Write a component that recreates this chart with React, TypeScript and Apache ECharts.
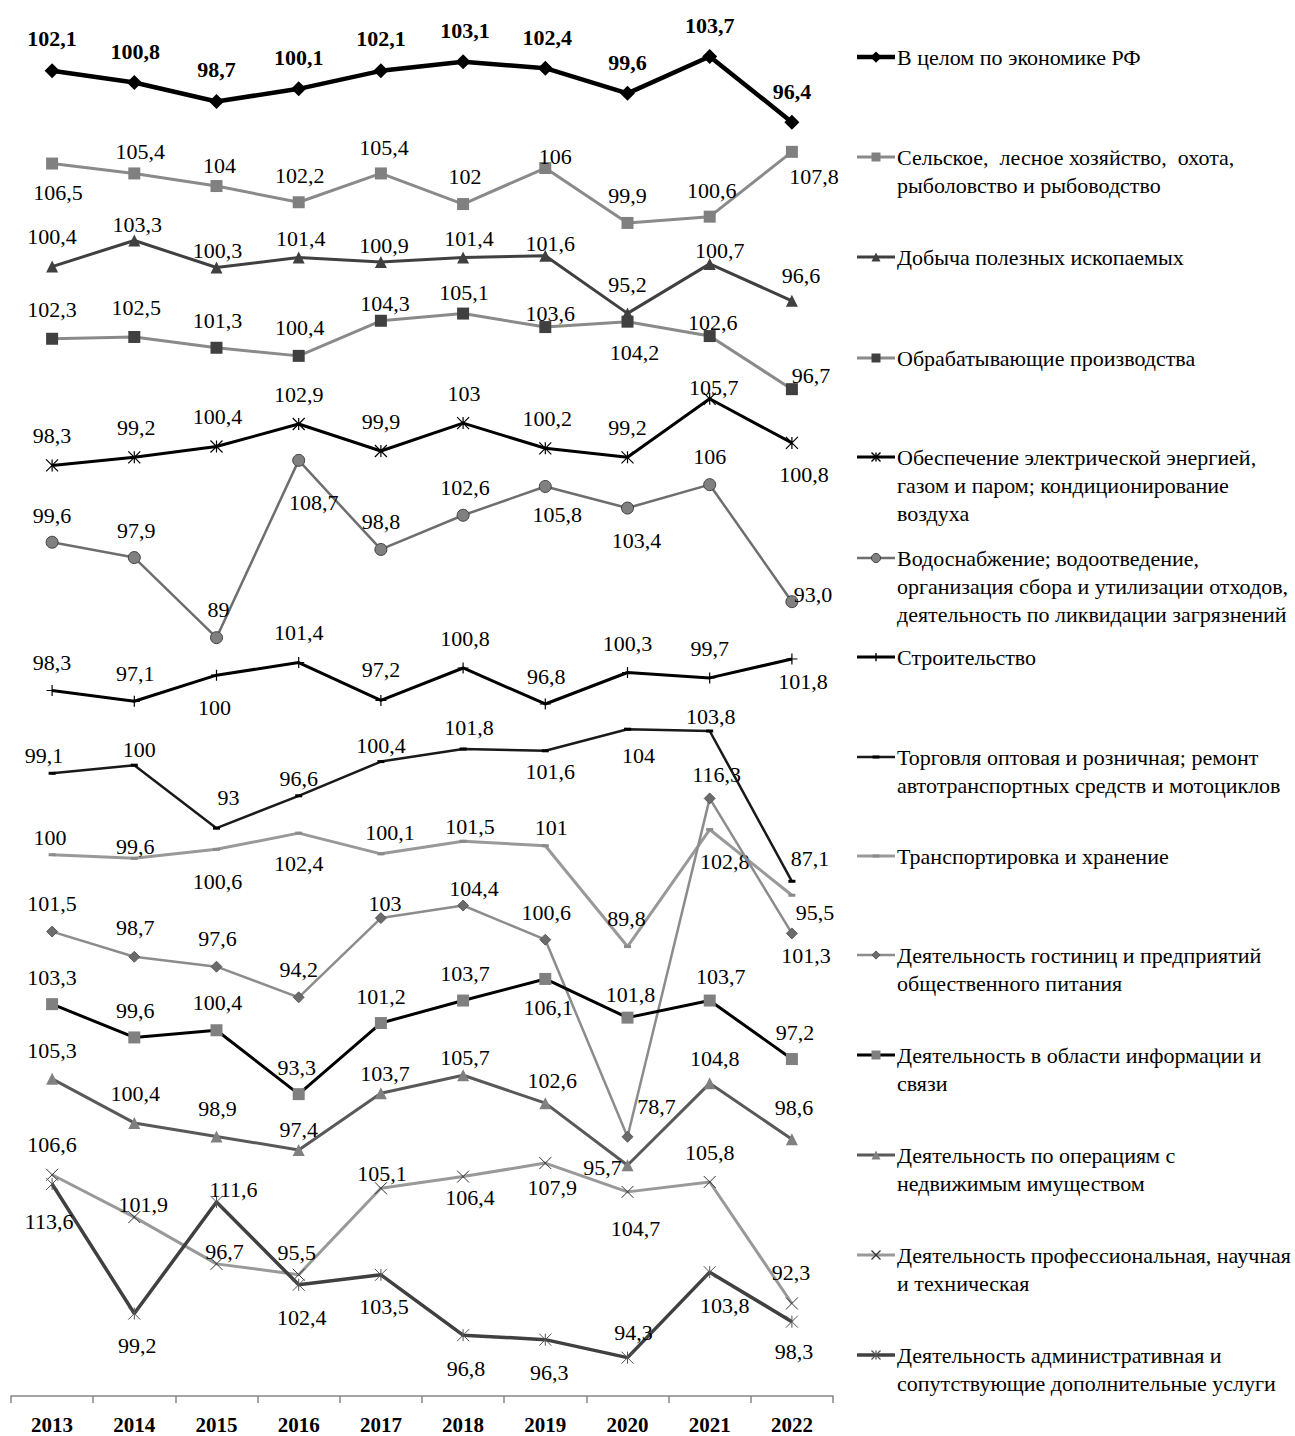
import React, { useEffect, useRef } from "react";
import * as echarts from "echarts";

const FONT = '"Liberation Serif", "Times New Roman", serif';

// ---------- data ----------
const YEARS = ["2013", "2014", "2015", "2016", "2017", "2018", "2019", "2020", "2021", "2022"];

const ECONOMY = [102.1, 100.8, 98.7, 100.1, 102.1, 103.1, 102.4, 99.6, 103.7, 96.4];
const AGRI = [106.5, 105.4, 104, 102.2, 105.4, 102, 106, 99.9, 100.6, 107.8];
const MINING = [100.4, 103.3, 100.3, 101.4, 100.9, 101.4, 101.6, 95.2, 100.7, 96.6];
const MANUF = [102.3, 102.5, 101.3, 100.4, 104.3, 105.1, 103.6, 104.2, 102.6, 96.7];
const ENERGY = [98.3, 99.2, 100.4, 102.9, 99.9, 103, 100.2, 99.2, 105.7, 100.8];
const WATER = [99.6, 97.9, 89, 108.7, 98.8, 102.6, 105.8, 103.4, 106, 93.0];
const CONSTR = [98.3, 97.1, 100, 101.4, 97.2, 100.8, 96.8, 100.3, 99.7, 101.8];
const TRADE = [99.1, 100, 93, 96.6, 100.4, 101.8, 101.6, 104, 103.8, 87.1];
const TRANSPORT = [100, 99.6, 100.6, 102.4, 100.1, 101.5, 101, 89.8, 102.8, 95.5];
const HOTELS = [101.5, 98.7, 97.6, 94.2, 103, 104.4, 100.6, 78.7, 116.3, 101.3];
const INFO = [103.3, 99.6, 100.4, 93.3, 101.2, 103.7, 106.1, 101.8, 103.7, 97.2];
const REALTY = [105.3, 100.4, 98.9, 97.4, 103.7, 105.7, 102.6, 95.7, 104.8, 98.6];
const PROF = [106.6, 101.9, 96.7, 95.5, 105.1, 106.4, 107.9, 104.7, 105.8, 92.3];
const ADMIN = [113.6, 99.2, 111.6, 102.4, 103.5, 96.8, 96.3, 94.3, 103.8, 98.3];

// ---------- layout (vertical band shift of each series, label offsets in px) ----------
const SHIFTS = [45.14, 30.44, 25.09, 15.17, 5.1, -4.74, -19.91, -29.91, -39.86, -49.9, -59.76, -70.06, -82.02, -90.04];

const OFF_ECON = [[0, -32], [1, -31], [0, -32], [0, -31], [0, -32], [2, -31], [2, -31], [0, -31], [0, -31], [0, -31]];
const OFF_AGRI = [[6, 29], [6, -22], [3, -21], [1, -27], [3, -26], [2, -28], [10, -12], [0, -27], [2, -26], [22, 25]];
const OFF_MINING = [[0, -30], [3, -16], [1, -17], [2, -19], [3, -17], [6, -19], [5, -12], [0, -29], [10, -13], [9, -25]];
const OFF_MANUF = [[0, -29], [2, -29], [1, -27], [1, -28], [4, -17], [1, -21], [5, -14], [7, 31], [3, -14], [19, -14]];
const OFF_ENERGY = [[0, -30], [2, -30], [1, -30], [0, -30], [0, -30], [1, -30], [2, -30], [0, -30], [4, -11], [12, 32]];
const OFF_WATER = [[0, -27], [2, -27], [2, -28], [15, 42], [0, -28], [2, -28], [12, 28], [9, 32], [0, -28], [21, -7]];
const OFF_CONSTR = [[0, -28], [1, -28], [-2, 32], [0, -30], [0, -31], [2, -29], [1, -27], [0, -29], [0, -29], [11, 23]];
const OFF_TRADE = [[-8, -18], [5, -16], [12, -31], [0, -17], [0, -16], [6, -21], [5, 21], [11, 26], [1, -14], [18, -23]];
const OFF_TRANSPORT = [[-2, -17], [1, -12], [1, 32], [0, 30], [9, -21], [7, -15], [6, -18], [-1, -28], [15, 32], [23, 17]];
const OFF_HOTELS = [[0, -28], [1, -29], [1, -28], [0, -28], [4, -15], [11, -17], [1, -27], [29, -30], [7, -24], [14, 22]];
const OFF_INFO = [[0, -27], [1, -27], [1, -28], [-2, -27], [0, -27], [2, -27], [3, 29], [3, -23], [11, -24], [3, -27]];
const OFF_REALTY = [[0, -28], [1, -29], [1, -28], [0, -20], [4, -20], [2, -18], [7, -23], [-25, 2], [5, -25], [2, -32]];
const OFF_PROF = [[0, -30], [9, -13], [8, -12], [-2, -22], [1, -15], [7, 21], [7, 24], [8, 37], [0, -29], [-1, -31]];
const OFF_ADMIN = [[-3, 38], [3, 32], [17, -12], [3, 33], [3, 32], [3, 33], [4, 33], [6, -25], [15, 33], [2, 30]];

const LEGEND_Y = [57, 157, 257, 358, 457, 558, 657, 757, 856, 955, 1055, 1155, 1255, 1355];

const SYM_PLUS = "path://M0,5L10,5M5,0L5,10";
const SYM_X = "path://M0,0L10,10M10,0L0,10";
const SYM_STAR = "path://M0,0L10,10M10,0L0,10M5,0L5,10";

type Spec = {
  name: string;
  legend: string;
  values: number[];
  offsets: number[][];
  line: string;
  width: number;
  symbol: string;
  size: number | number[];
  fill: string;
  stroke: string;
  strokeWidth: number;
  bold?: boolean;
  fixed?: number[];
};

const SPECS: Spec[] = [
  { name: "В целом по экономике РФ", legend: "В целом по экономике РФ", values: ECONOMY, offsets: OFF_ECON, line: "#000000", width: 4.5, symbol: "diamond", size: 15, fill: "#000000", stroke: "#000000", strokeWidth: 0, bold: true },
  { name: "Сельское, лесное хозяйство, охота, рыболовство и рыбоводство", legend: "Сельское,  лесное хозяйство,  охота,\nрыболовство и рыбоводство", values: AGRI, offsets: OFF_AGRI, line: "#8a8a8a", width: 3, symbol: "rect", size: 12, fill: "#808080", stroke: "#808080", strokeWidth: 0 },
  { name: "Добыча полезных ископаемых", legend: "Добыча полезных ископаемых", values: MINING, offsets: OFF_MINING, line: "#404040", width: 3, symbol: "triangle", size: 12, fill: "#404040", stroke: "#404040", strokeWidth: 0 },
  { name: "Обрабатывающие производства", legend: "Обрабатывающие производства", values: MANUF, offsets: OFF_MANUF, line: "#8a8a8a", width: 3, symbol: "rect", size: 12, fill: "#404040", stroke: "#404040", strokeWidth: 0 },
  { name: "Обеспечение электрической энергией, газом и паром; кондиционирование воздуха", legend: "Обеспечение электрической энергией,\nгазом и паром; кондиционирование\nвоздуха", values: ENERGY, offsets: OFF_ENERGY, line: "#000000", width: 3, symbol: SYM_STAR, size: 12, fill: "none", stroke: "#000000", strokeWidth: 1.2 },
  { name: "Водоснабжение; водоотведение, организация сбора и утилизации отходов, деятельность по ликвидации загрязнений", legend: "Водоснабжение; водоотведение,\nорганизация сбора и утилизации отходов,\nдеятельность по ликвидации загрязнений", values: WATER, offsets: OFF_WATER, line: "#6e6e6e", width: 2.5, symbol: "circle", size: 12, fill: "#808080", stroke: "#404040", strokeWidth: 1, fixed: [9] },
  { name: "Строительство", legend: "Строительство", values: CONSTR, offsets: OFF_CONSTR, line: "#000000", width: 3, symbol: SYM_PLUS, size: 11, fill: "none", stroke: "#000000", strokeWidth: 1.2 },
  { name: "Торговля оптовая и розничная; ремонт автотранспортных средств и мотоциклов", legend: "Торговля оптовая и розничная; ремонт\nавтотранспортных средств и мотоциклов", values: TRADE, offsets: OFF_TRADE, line: "#1a1a1a", width: 2.5, symbol: "rect", size: [7, 3], fill: "#000000", stroke: "#000000", strokeWidth: 0 },
  { name: "Транспортировка и хранение", legend: "Транспортировка и хранение", values: TRANSPORT, offsets: OFF_TRANSPORT, line: "#999999", width: 3, symbol: "rect", size: [7, 3], fill: "#8a8a8a", stroke: "#8a8a8a", strokeWidth: 0 },
  { name: "Деятельность гостиниц и предприятий общественного питания", legend: "Деятельность гостиниц и предприятий\nобщественного питания", values: HOTELS, offsets: OFF_HOTELS, line: "#8c8c8c", width: 2.5, symbol: "diamond", size: 11, fill: "#6b6b6b", stroke: "#4a4a4a", strokeWidth: 0.8 },
  { name: "Деятельность в области информации и связи", legend: "Деятельность в области информации и\nсвязи", values: INFO, offsets: OFF_INFO, line: "#000000", width: 3, symbol: "rect", size: 12, fill: "#808080", stroke: "#808080", strokeWidth: 0 },
  { name: "Деятельность по операциям с недвижимым имуществом", legend: "Деятельность по операциям с\nнедвижимым имуществом", values: REALTY, offsets: OFF_REALTY, line: "#595959", width: 3, symbol: "triangle", size: 12, fill: "#808080", stroke: "#808080", strokeWidth: 0 },
  { name: "Деятельность профессиональная, научная и техническая", legend: "Деятельность профессиональная, научная\nи техническая", values: PROF, offsets: OFF_PROF, line: "#999999", width: 3, symbol: SYM_X, size: 12, fill: "none", stroke: "#333333", strokeWidth: 1 },
  { name: "Деятельность административная и сопутствующие дополнительные услуги", legend: "Деятельность административная и\nсопутствующие дополнительные услуги", values: ADMIN, offsets: OFF_ADMIN, line: "#404040", width: 3.5, symbol: SYM_STAR, size: 12, fill: "none", stroke: "#555555", strokeWidth: 1 },
];

const PX_PER_UNIT = 9;
const PLOT_BOTTOM = 1396;

function fmt(v: number, forceOne: boolean): string {
  const s = forceOne ? v.toFixed(1) : String(v);
  return s.replace(".", ",");
}

function legendMarker(s: Spec, cx: number, cy: number): any[] {
  const base = Array.isArray(s.size) ? s.size[0] : s.size;
  const z = (typeof s.size === "number" ? base * 0.75 : base);
  const fillStyle = { fill: s.fill === "none" ? null : s.fill, stroke: s.strokeWidth ? s.stroke : null, lineWidth: s.strokeWidth };
  const h = z / 2;
  if (s.symbol === "diamond") {
    return [{ type: "polygon", shape: { points: [[cx, cy - h], [cx + h, cy], [cx, cy + h], [cx - h, cy]] }, style: fillStyle, z: 10 }];
  }
  if (s.symbol === "triangle") {
    return [{ type: "polygon", shape: { points: [[cx, cy - h], [cx + h, cy + h], [cx - h, cy + h]] }, style: fillStyle, z: 10 }];
  }
  if (s.symbol === "circle") {
    return [{ type: "circle", shape: { cx, cy, r: h }, style: fillStyle, z: 10 }];
  }
  if (s.symbol === "rect") {
    if (Array.isArray(s.size)) {
      return [{ type: "rect", shape: { x: cx - s.size[0] / 2, y: cy - s.size[1] / 2, width: s.size[0], height: s.size[1] }, style: fillStyle, z: 10 }];
    }
    return [{ type: "rect", shape: { x: cx - h, y: cy - h, width: z, height: z }, style: fillStyle, z: 10 }];
  }
  const segs: number[][] = [];
  if (s.symbol === SYM_PLUS) {
    segs.push([cx - h, cy, cx + h, cy], [cx, cy - h, cx, cy + h]);
  } else if (s.symbol === SYM_X) {
    segs.push([cx - h, cy - h, cx + h, cy + h], [cx + h, cy - h, cx - h, cy + h]);
  } else {
    segs.push([cx - h, cy - h, cx + h, cy + h], [cx + h, cy - h, cx - h, cy + h], [cx, cy - h, cx, cy + h]);
  }
  return segs.map((g) => ({ type: "line", shape: { x1: g[0], y1: g[1], x2: g[2], y2: g[3] }, style: { stroke: s.stroke, lineWidth: s.strokeWidth + 0.2 }, z: 10 }));
}

export default function App() {
  const ref = useRef<HTMLDivElement>(null);

  useEffect(() => {
    if (!ref.current) return;
    const chart = echarts.init(ref.current, null, { renderer: "svg" });

    const series = SPECS.map((s, si) => {
      const shift = SHIFTS[si];
      return {
        type: "line",
        name: s.name,
        data: s.values.map((v, i) => ({ value: v + shift, label: { offset: s.offsets[i] } })),
        symbol: s.symbol,
        symbolSize: s.size,
        showSymbol: true,
        showAllSymbol: true,
        lineStyle: { color: s.line, width: s.width },
        itemStyle: {
          color: s.fill === "none" ? "transparent" : s.fill,
          borderColor: s.stroke,
          borderWidth: s.strokeWidth,
        },
        label: {
          show: true,
          position: "inside",
          align: "center",
          verticalAlign: "middle",
          color: "#000",
          fontFamily: FONT,
          fontSize: 22,
          fontWeight: s.bold ? "bold" : "normal",
          formatter: (p: any) => fmt(s.values[p.dataIndex], !!(s.fixed && s.fixed.indexOf(p.dataIndex) >= 0)),
        },
        emphasis: { disabled: true },
        z: 2 + si * 0.01,
      };
    });

    const graphics: any[] = [];
    SPECS.forEach((s, si) => {
      const y = LEGEND_Y[si];
      graphics.push({ type: "line", shape: { x1: 857, y1: y, x2: 895, y2: y }, style: { stroke: s.line, lineWidth: s.width }, z: 9 });
      legendMarker(s, 876, y).forEach((g) => graphics.push(g));
      graphics.push({
        type: "text",
        x: 897,
        y: y - 14,
        style: { text: s.legend, fontFamily: FONT, fontSize: 22, lineHeight: 28, fill: "#000", verticalAlign: "top", align: "left" },
        z: 10,
      });
    });

    chart.setOption({
      animation: false,
      backgroundColor: "#ffffff",
      grid: { left: 11, right: 1295 - 833, top: 0, bottom: 1436 - PLOT_BOTTOM, containLabel: false },
      xAxis: {
        type: "category",
        data: YEARS,
        boundaryGap: true,
        axisLine: { show: true, lineStyle: { color: "#868686", width: 1.5 } },
        axisTick: { show: true, length: 7, lineStyle: { color: "#868686", width: 1.5 } },
        axisLabel: { color: "#000", fontFamily: FONT, fontSize: 21, fontWeight: "bold", margin: 18 },
        splitLine: { show: false },
      },
      yAxis: {
        type: "value",
        show: false,
        min: 0,
        max: PLOT_BOTTOM / PX_PER_UNIT,
        splitLine: { show: false },
      },
      series,
      graphic: graphics,
    });

    return () => chart.dispose();
  }, []);

  return (
    <div
      ref={ref}
      style={{ position: "absolute", left: 0, top: 0, width: 1295, height: 1436, background: "#fff" }}
    />
  );
}
